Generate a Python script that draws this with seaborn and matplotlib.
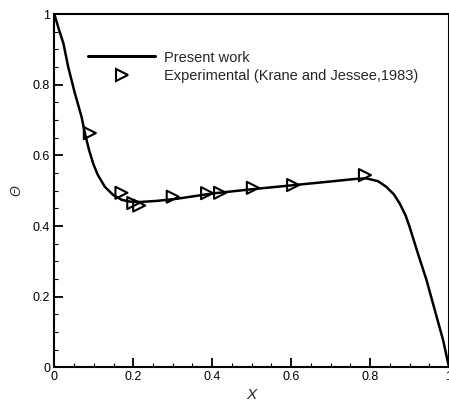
import numpy as np
import pandas as pd
import matplotlib
matplotlib.use("Agg")
import matplotlib.pyplot as plt
import seaborn as sns
from matplotlib.lines import Line2D
from matplotlib.ticker import MultipleLocator, FormatStrFormatter

sns.set_theme(style="white")
plt.rcParams["font.family"] = ["Liberation Sans", "DejaVu Sans"]

# present work (numerical curve)
curve_x = [0.0, 0.012, 0.023, 0.035, 0.052, 0.069, 0.078, 0.088, 0.099, 0.11, 0.128, 0.149,
           0.171, 0.192, 0.217, 0.259, 0.31, 0.40, 0.50, 0.60, 0.70, 0.76, 0.79, 0.82,
           0.841, 0.86, 0.875, 0.89, 0.90, 0.921, 0.943, 0.964, 0.985, 1.0]
curve_y = [1.0, 0.955, 0.917, 0.851, 0.776, 0.709, 0.66, 0.615, 0.575, 0.545, 0.511, 0.488,
           0.474, 0.469, 0.468, 0.471, 0.477, 0.492, 0.504, 0.515, 0.526, 0.533, 0.535, 0.527,
           0.511, 0.49, 0.464, 0.43, 0.398, 0.323, 0.247, 0.162, 0.077, 0.0]

# experimental points (Krane and Jessee, 1983)
exp_x = [0.09, 0.17, 0.20, 0.215, 0.30, 0.387, 0.42, 0.503, 0.605, 0.787]
exp_y = [0.663, 0.494, 0.465, 0.458, 0.483, 0.493, 0.494, 0.508, 0.516, 0.544]

df_curve = pd.DataFrame({"X": curve_x, "T": curve_y})
df_exp = pd.DataFrame({"X": exp_x, "T": exp_y})

fig = plt.figure(figsize=(4.49, 4.03), dpi=100)
ax = fig.add_axes([0.121, 0.0886, 0.879, 0.8765])

sns.lineplot(data=df_curve, x="X", y="T", ax=ax, color="black", lw=1.8, sort=False,
             solid_joinstyle="round", solid_capstyle="round")
sns.scatterplot(data=df_exp, x="X", y="T", ax=ax, marker=">", s=75,
                facecolor="none", edgecolor="black", linewidth=1.5, zorder=3)

ax.set_xlim(0, 1)
ax.set_ylim(0, 1)
ax.xaxis.set_major_locator(MultipleLocator(0.2))
ax.yaxis.set_major_locator(MultipleLocator(0.2))
ax.xaxis.set_minor_locator(MultipleLocator(0.05))
ax.yaxis.set_minor_locator(MultipleLocator(0.05))
ax.xaxis.set_major_formatter(FormatStrFormatter("%g"))
ax.yaxis.set_major_formatter(FormatStrFormatter("%g"))
ax.tick_params(which="major", direction="in", length=6.5, width=1.3, colors="black",
               labelsize=9, left=True, bottom=True, pad=3)
ax.tick_params(which="minor", direction="in", length=3, width=0.8, colors="black",
               left=True, bottom=True)
for s in ax.spines.values():
    s.set_color("black")
    s.set_linewidth(1.5)

ax.set_xlabel("X", fontsize=11, style="italic", labelpad=3)
ax.set_ylabel("\u0398", fontsize=10, style="italic", labelpad=7)

handles = [Line2D([], [], color="black", lw=2.2),
           Line2D([], [], color="black", marker=">", ls="", ms=8.5, mfc="none", mew=1.5)]
labels = ["Present work", "Experimental (Krane and Jessee,1983)"]
ax.legend(handles, labels, loc="upper left", bbox_to_anchor=(0.053, 0.934), frameon=False,
          fontsize=10.5, handlelength=4.6, handletextpad=0.6, labelspacing=0.3)

fig.savefig("out.png", dpi=100)
